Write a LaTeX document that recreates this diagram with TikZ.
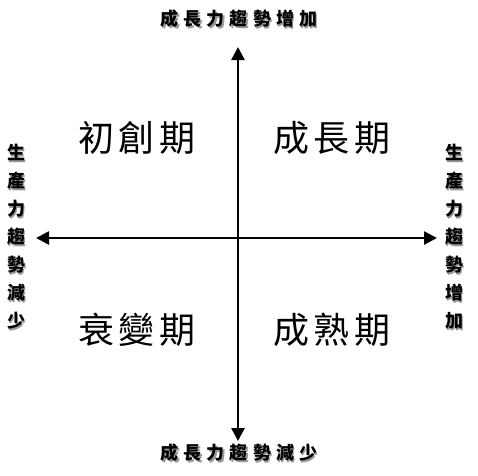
\documentclass[tikz,border=0pt]{standalone}
\usepackage{fontspec}
\usepackage{xcolor}
\usetikzlibrary{arrows.meta, positioning}
\newfontfamily\cjk{Noto Sans CJK TC}
\newfontfamily\cjkaxis[LetterSpace=28]{Noto Sans CJK TC}
\newfontfamily\cjkquad[LetterSpace=12]{Noto Sans CJK TC}
% text with a soft grey drop shadow
\newcommand{\shd}[1]{\makebox[0pt][l]{\raisebox{-1.8pt}{\kern1.8pt\textcolor{black!40}{#1}}}#1}

\begin{document}
\begin{tikzpicture}[
        x=1pt, y=-1pt,
        axislab/.style={inner sep=0pt, font=\cjkaxis\bfseries\fontsize{18}{18}\selectfont},
        vlab/.style={inner sep=0pt, align=center, font=\cjk\bfseries\fontsize{18}{28}\selectfont},
        phase/.style={inner sep=0pt, font=\cjkquad\fontsize{36}{36}\selectfont},
        arrow/.style={-{Triangle[length=13pt,width=13pt]}, line width=2.6pt}
    ]
        \useasboundingbox (0,0) rectangle (478,475);

        \coordinate (o) at (238,238);
        \coordinate (up) at (238,47);
        \coordinate (down) at (238,441);
        \coordinate (left) at (36,238);
        \coordinate (right) at (437,238);

        \node[axislab] (growup) at (239,20) {\shd{成長力趨勢增加}};
        \node[axislab] (growdown) at (239,454) {\shd{成長力趨勢減少}};
        \node[vlab] (prodleft) at (16,238) {\shd{生}\\\shd{產}\\\shd{力}\\\shd{趨}\\\shd{勢}\\\shd{減}\\\shd{少}};
        \node[vlab] (prodright) at (454,238) {\shd{生}\\\shd{產}\\\shd{力}\\\shd{趨}\\\shd{勢}\\\shd{增}\\\shd{加}};

        \node[phase] (start) at (137,138) {初創期};
        \node[phase] (growth) at (332,138) {成長期};
        \node[phase] (decline) at (137,330) {衰變期};
        \node[phase] (mature) at (332,330) {成熟期};

        \draw[arrow] (o) -- (up);
        \draw[arrow] (o) -- (down);
        \draw[arrow] (o) -- (left);
        \draw[arrow] (o) -- (right);
    \end{tikzpicture}
\end{document}
